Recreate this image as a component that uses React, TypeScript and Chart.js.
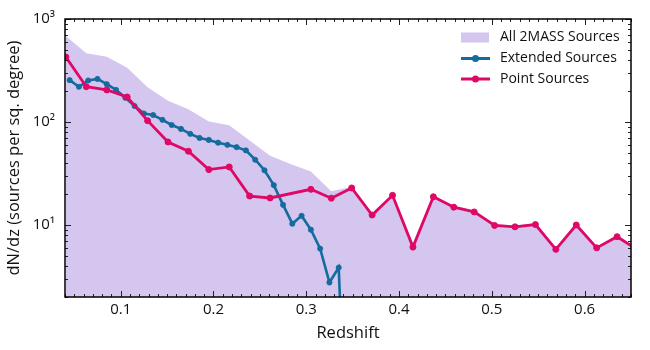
import React, { useEffect, useRef } from 'react';
import { Chart, registerables } from 'chart.js';

Chart.register(...registerables);

// ---- data ----
const pointZ = [0.041, 0.063, 0.085, 0.107, 0.129, 0.151, 0.173, 0.195, 0.217, 0.239, 0.261, 0.305, 0.327, 0.349, 0.371, 0.393, 0.415, 0.437, 0.459, 0.481, 0.503, 0.525, 0.547, 0.569, 0.591, 0.613, 0.635, 0.657];
const pointN = [427, 220, 205, 175, 103, 64, 52, 34.5, 36.6, 19.1, 18.3, 22.2, 18.2, 22.9, 12.5, 19.4, 6.1, 18.8, 14.9, 13.4, 9.9, 9.6, 10.1, 5.8, 10.0, 6.0, 7.7, 5.75];

const extZ = [0.045, 0.055, 0.065, 0.075, 0.085, 0.095, 0.105, 0.115, 0.125, 0.135, 0.145, 0.155, 0.165, 0.175, 0.185, 0.195, 0.205, 0.215, 0.225, 0.235, 0.245, 0.255, 0.265, 0.275, 0.285, 0.295, 0.305, 0.315, 0.325, 0.335, 0.345];
const extN = [255, 220, 253, 262, 233, 205, 172, 143, 121, 117, 105, 93.5, 85.7, 76.7, 70, 67, 63, 60, 57, 53, 43, 34, 24.4, 15.7, 10.3, 12.3, 9.0, 5.9, 2.77, 3.86, 0.02];

const allZ = [0.041, 0.063, 0.085, 0.107, 0.129, 0.151, 0.173, 0.195, 0.217, 0.239, 0.261, 0.283, 0.305, 0.327, 0.349, 0.371, 0.393, 0.415, 0.437, 0.459, 0.481, 0.503, 0.525, 0.547, 0.569, 0.591, 0.613, 0.635, 0.657];
const allN = [680, 464, 431, 336, 217, 161, 133, 101, 93, 66, 47, 39, 33, 21.3, 23.5, 13.0, 20.0, 6.7, 19.4, 15.4, 13.8, 10.2, 9.9, 10.4, 6.0, 10.3, 6.2, 7.9, 5.9];

const xTickLabels = ['0.1', '0.2', '0.3', '0.4', '0.5', '0.6'];
const yTickLabels = ['10¹', '10²', '10³'];

const labelAll = 'All 2MASS Sources';
const labelExt = 'Extended Sources';
const labelPoint = 'Point Sources';

const COL_AREA = '#d4c6ef';
const COL_EXT = '#146b9d';
const COL_POINT = '#df0866';
const FONT = "'Open Sans', 'Noto Sans', sans-serif";

const toXY = (xs: number[], ys: number[]) => xs.map((x, i) => ({ x, y: ys[i] }));

const framePlugin = {
  id: 'frameTicksLegend',
  afterDatasetsDraw(chart: any) {
    const { ctx, chartArea: a, scales } = chart;
    const xs = scales.x;
    const ys = scales.y;
    ctx.save();
    ctx.strokeStyle = '#222';
    ctx.lineWidth = 1;
    const seg = (x1: number, y1: number, x2: number, y2: number) => {
      ctx.beginPath();
      ctx.moveTo(x1, y1);
      ctx.lineTo(x2, y2);
      ctx.stroke();
    };
    // x ticks (inward, bottom & top)
    for (let i = 4; i <= 65; i++) {
      const px = Math.round(xs.getPixelForValue(i / 100)) + 0.5;
      const len = i % 10 === 0 ? 6 : 3;
      seg(px, a.bottom, px, a.bottom - len);
      seg(px, a.top, px, a.top + len);
    }
    // y ticks (inward, left & right)
    for (let e = 0; e <= 3; e++) {
      for (let m = 1; m <= 9; m++) {
        const v = m * Math.pow(10, e);
        if (v < 2 || v > 1000) continue;
        const py = Math.round(ys.getPixelForValue(v)) + 0.5;
        const len = m === 1 ? 6 : 3;
        seg(a.left, py, a.left + len, py);
        seg(a.right, py, a.right - len, py);
      }
    }
    // frame
    ctx.strokeStyle = '#000';
    ctx.lineWidth = 1.5;
    ctx.strokeRect(a.left, a.top, a.right - a.left, a.bottom - a.top);

    // legend
    const lx = a.right - 170;
    const tx = a.right - 131;
    const rows = [a.top + 18.5, a.top + 39.5, a.top + 60];
    ctx.font = `14px ${FONT}`;
    ctx.textBaseline = 'middle';
    ctx.textAlign = 'left';
    ctx.fillStyle = COL_AREA;
    ctx.fillRect(lx, rows[0] - 5, 28, 10);
    const drawLine = (y: number, col: string) => {
      ctx.strokeStyle = col;
      ctx.lineWidth = 3;
      seg(lx, y, lx + 29, y);
      ctx.fillStyle = col;
      ctx.beginPath();
      ctx.arc(lx + 14.5, y, 3.5, 0, Math.PI * 2);
      ctx.fill();
    };
    drawLine(rows[1], COL_EXT);
    drawLine(rows[2], COL_POINT);
    ctx.fillStyle = '#111';
    ctx.fillText(labelAll, tx, rows[0]);
    ctx.fillText(labelExt, tx, rows[1]);
    ctx.fillText(labelPoint, tx, rows[2]);
    ctx.restore();
  },
};

export default function App() {
  const ref = useRef<HTMLCanvasElement | null>(null);

  useEffect(() => {
    let chart: Chart | null = null;
    let cancelled = false;
    const make = () => {
      if (cancelled || !ref.current) return;
      chart = new Chart(ref.current, {
        type: 'line',
        data: {
          datasets: [
            {
              label: labelAll,
              data: toXY(allZ, allN),
              backgroundColor: COL_AREA,
              borderWidth: 0,
              borderColor: 'rgba(0,0,0,0)',
              pointRadius: 0,
              fill: 'start',
              order: 3,
              clip: 0,
            },
            {
              label: labelExt,
              data: toXY(extZ, extN),
              borderColor: COL_EXT,
              backgroundColor: COL_EXT,
              borderWidth: 2.6,
              pointRadius: 2.6,
              pointBorderWidth: 0.8,
              pointBackgroundColor: COL_EXT,
              pointBorderColor: COL_EXT,
              fill: false,
              order: 2,
              clip: 0,
            },
            {
              label: labelPoint,
              data: toXY(pointZ, pointN),
              borderColor: COL_POINT,
              backgroundColor: COL_POINT,
              borderWidth: 2.8,
              pointRadius: 3,
              pointBorderWidth: 1,
              pointBackgroundColor: COL_POINT,
              pointBorderColor: COL_POINT,
              fill: false,
              order: 1,
              clip: 0,
            },
          ],
        },
        options: {
          animation: false,
          responsive: false,
          maintainAspectRatio: false,
          layout: { padding: { top: 17, right: 19, left: 0, bottom: 0 } },
          plugins: {
            legend: { display: false },
            tooltip: { enabled: false },
          },
          scales: {
            x: {
              type: 'linear',
              min: 0.04,
              max: 0.65,
              grid: { display: false, drawTicks: false },
              border: { display: false },
              ticks: {
                stepSize: 0.1,
                includeBounds: false,
                autoSkip: false,
                maxRotation: 0,
                padding: 4,
                color: '#111',
                font: { family: FONT, size: 15 },
                callback: (v: any) => {
                  const idx = Math.round(Number(v) * 10) - 1;
                  return Math.abs(Number(v) * 10 - Math.round(Number(v) * 10)) < 1e-6 ? xTickLabels[idx] ?? '' : '';
                },
              },
              title: {
                display: true,
                text: 'Redshift',
                color: '#111',
                font: { family: FONT, size: 16.5 },
                padding: { top: 0, bottom: 7 },
              },
              afterFit: (s: any) => {
                s.height = 53;
              },
            },
            y: {
              type: 'logarithmic',
              min: 2,
              max: 1000,
              grid: { display: false, drawTicks: false },
              border: { display: false },
              ticks: {
                autoSkip: false,
                padding: 10,
                color: '#111',
                font: { family: FONT, size: 15 },
                callback: (v: any) => {
                  const l = Math.log10(Number(v));
                  const r = Math.round(l);
                  return Math.abs(l - r) < 1e-9 && r >= 1 && r <= 3 ? yTickLabels[r - 1] : '';
                },
              },
              title: {
                display: true,
                text: 'dN/dz (sources per sq. degree)',
                color: '#111',
                font: { family: FONT, size: 16.5 },
                padding: { top: 4, bottom: 0 },
              },
              afterFit: (s: any) => {
                s.width = 65;
              },
            },
          },
        },
        plugins: [framePlugin],
      } as any);
    };
    const fonts: any = (document as any).fonts;
    if (fonts && fonts.load) {
      Promise.all([fonts.load(`14px 'Open Sans'`), fonts.load(`16px 'Open Sans'`)])
        .catch(() => null)
        .then(make);
    } else {
      make();
    }
    return () => {
      cancelled = true;
      if (chart) chart.destroy();
    };
  }, []);

  return (
    <div style={{ position: 'fixed', left: 0, top: 0, width: 650, height: 350, background: '#fff' }}>
      <canvas ref={ref} width={650} height={350} style={{ width: 650, height: 350, display: 'block' }} />
    </div>
  );
}
